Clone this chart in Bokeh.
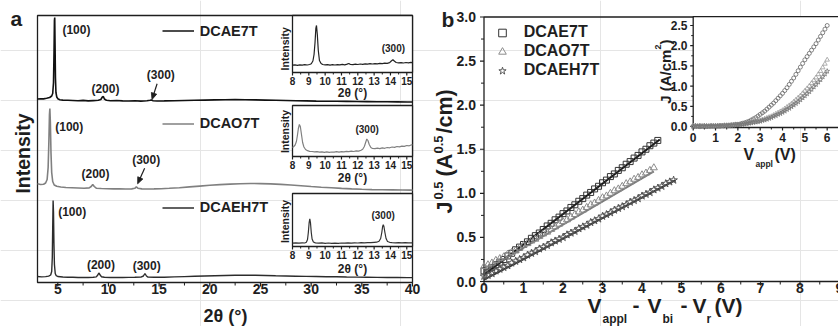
from bokeh.plotting import figure
from bokeh.models import Range1d, Legend, LegendItem
from bokeh.core.properties import value
from bokeh.embed import file_html
from bokeh.resources import INLINE
import math

FONT = "Liberation Sans"
INK = "#1e1e1e"

# ---------------- panel a : XRD (2theta, intensity offset, a.u.) ----------------
xrd_dcae7t = [(3.0,183.5),(3.3,183.8),(3.6,183.6),(3.9,184.2),(4.2,185.0),(4.4,186.5),(4.5,189),(4.58,200),
              (4.63,230),(4.67,262),(4.70,265),(4.73,240),(4.77,205),(4.82,190),(4.9,185.5),(5.0,183.8),
              (5.2,182.8),(5.5,182.4),(6.0,182.2),(6.5,182.0),(7.0,181.8),(7.5,182.1),(8.0,181.6),(8.5,181.9),
              (9.0,182.2),(9.25,183.0),(9.4,185.5),(9.5,186.0),(9.6,183.5),(9.8,182.3),(10.2,181.8),(10.8,182.0),
              (11.4,181.6),(12.0,181.5),(12.6,181.8),(13.2,181.4),(13.8,181.7),(14.1,182.2),(14.25,182.6),
              (14.4,181.8),(14.8,181.5),(15.5,181.6),(16.5,181.8),(17.5,182.0),(18.5,182.2),(19.5,182.4),
              (20.5,182.6),(21.5,182.8),(22.5,182.9),(23.5,182.8),(24.5,182.6),(25.5,182.4),(26.5,182.2),
              (27.5,182.0),(28.5,181.8),(29.5,181.6),(30.5,181.4),(31.5,181.3),(32.5,181.2),(33.5,181.1),
              (34.5,181.0),(35.5,180.9),(36.5,180.8),(37.5,180.7),(38.5,180.6),(39.5,180.5),(40.0,180.5)]
xrd_dcao7t = [(3.0,98.7),(3.3,98.0),(3.6,98.3),(3.8,99.5),(3.95,103),(4.05,115),(4.12,140),(4.18,168),
              (4.22,174),(4.27,160),(4.33,130),(4.4,110),(4.5,101),(4.65,97.5),(4.9,96.2),(5.3,95.5),
              (5.8,95.0),(6.4,94.8),(7.0,94.5),(7.6,94.2),(8.1,94.6),(8.3,96.0),(8.45,98.0),(8.6,96.0),
              (8.8,94.3),(9.3,94.0),(9.9,93.8),(10.5,93.6),(11.1,93.8),(11.7,93.5),(12.3,93.6),(12.6,94.2),
              (12.75,95.6),(12.9,94.3),(13.3,93.6),(13.9,93.5),(14.5,93.6),(15.2,93.8),(16.0,94.2),
              (17.0,94.8),(18.0,95.6),(19.0,96.4),(20.0,97.2),(21.0,97.9),(22.0,98.4),(23.0,98.8),
              (24.0,99.0),(25.0,98.9),(26.0,98.6),(27.0,98.1),(28.0,97.5),(29.0,96.8),(30.0,96.0),
              (31.0,95.3),(32.0,94.7),(33.0,94.1),(34.0,93.6),(35.0,93.2),(36.0,92.9),(37.0,92.7),
              (38.0,92.6),(39.0,92.5),(40.0,92.4)]
xrd_dcaeh7t = [(3.0,6.0),(3.4,5.6),(3.8,5.9),(4.1,6.4),(4.3,7.5),(4.4,11),(4.46,25),(4.5,55),(4.54,82),
               (4.58,70),(4.62,40),(4.67,18),(4.75,9),(4.85,6.8),(5.0,6.0),(5.5,5.5),(6.0,5.3),(6.5,5.2),
               (7.0,5.0),(7.5,5.1),(8.0,5.0),(8.5,5.2),(8.8,5.6),(8.95,7.5),(9.05,9.5),(9.15,8.0),(9.3,5.8),
               (9.6,5.2),(10.2,5.0),(10.8,5.1),(11.4,5.0),(12.0,5.1),(12.6,5.2),(13.2,5.4),(13.45,6.5),
               (13.6,9.0),(13.75,6.5),(13.9,5.4),(14.5,5.2),(15.5,5.3),(16.5,5.6),(17.5,5.9),(18.5,6.2),
               (19.5,6.5),(20.5,6.8),(21.5,7.0),(22.5,7.2),(23.5,7.3),(24.5,7.2),(25.5,7.0),(26.5,6.7),
               (27.5,6.5),(28.5,6.3),(29.5,6.1),(30.5,6.0),(31.5,5.8),(32.5,5.7),(33.5,5.5),(34.5,5.4),
               (35.5,5.3),(36.5,5.1),(37.5,5.0),(38.5,5.0),(39.5,4.9),(40.0,4.9)]

zoom_dcae7t = [(8.0,7.3),(8.15,7.6),(8.3,7.2),(8.45,7.7),(8.6,7.4),(8.75,7.8),(8.9,7.5),(9.05,8.0),(9.15,8.8),
               (9.25,11.5),(9.32,18),(9.38,30),(9.43,44),(9.47,47),(9.52,38),(9.58,22),(9.65,12),(9.75,9),
               (9.85,8.0),(10.0,7.6),(10.15,7.9),(10.3,7.4),(10.45,7.8),(10.6,7.5),(10.75,7.9),(10.9,7.6),
               (11.05,8.1),(11.2,7.7),(11.35,8.4),(11.45,9.0),(11.55,8.0),(11.7,7.8),(11.85,8.3),(12.0,8.0),
               (12.15,8.5),(12.3,8.2),(12.45,8.7),(12.6,8.3),(12.75,8.8),(12.9,8.5),(13.05,8.9),(13.2,8.6),
               (13.35,9.1),(13.5,8.8),(13.65,9.3),(13.8,9.1),(13.95,9.8),(14.05,11.5),(14.15,12.8),
               (14.25,11.2),(14.35,10.0),(14.5,9.6),(14.65,9.9),(14.8,9.5),(14.95,10.0),(15.1,9.7),
               (15.25,10.1),(15.35,9.9)]
zoom_dcao7t = [(8.0,9.0),(8.08,10.0),(8.16,11.5),(8.24,15),(8.3,21),(8.36,28),(8.42,32),(8.48,30),(8.55,22),
               (8.62,14),(8.7,9.5),(8.8,7.0),(8.92,5.8),(9.05,5.2),(9.2,5.0),(9.35,4.6),(9.5,4.9),(9.65,4.4),
               (9.8,4.7),(9.95,4.2),(10.1,4.6),(10.25,4.1),(10.4,4.5),(10.55,4.3),(10.7,4.8),(10.85,4.4),
               (11.0,4.9),(11.15,4.6),(11.3,5.1),(11.45,4.8),(11.6,5.3),(11.75,5.0),(11.9,5.6),(12.05,5.4),
               (12.2,6.2),(12.3,7.2),(12.4,10),(12.48,14),(12.55,17.5),(12.62,16),(12.7,12),(12.8,9),
               (12.9,8.0),(13.05,7.8),(13.2,8.3),(13.35,7.9),(13.5,8.6),(13.65,8.2),(13.8,9.0),(13.95,8.7),
               (14.1,9.5),(14.25,9.1),(14.4,10.0),(14.55,9.6),(14.7,10.4),(14.85,10.1),(15.0,11.0),
               (15.15,10.7),(15.3,11.8),(15.35,11.5)]
zoom_dcaeh7t = [(8.0,3.4),(8.2,3.6),(8.4,3.3),(8.6,3.6),(8.75,3.5),(8.85,4.2),(8.92,7),(8.97,14),(9.02,24),
                (9.06,27.7),(9.1,24),(9.15,14),(9.2,7.5),(9.28,4.5),(9.4,3.6),(9.6,3.4),(9.8,3.6),(10.0,3.2),
                (10.2,3.5),(10.4,3.1),(10.6,3.4),(10.8,3.2),(11.0,3.5),(11.2,3.3),(11.4,3.6),(11.6,3.4),
                (11.8,3.7),(12.0,3.5),(12.2,3.8),(12.4,3.6),(12.6,3.9),(12.8,3.8),(13.0,4.1),(13.15,4.3),
                (13.3,5.2),(13.4,8),(13.47,14),(13.52,20),(13.56,21.7),(13.6,20),(13.66,14),(13.73,8),
                (13.82,5.0),(13.95,4.2),(14.1,3.9),(14.3,3.7),(14.5,3.9),(14.7,3.6),(14.9,3.8),(15.1,3.6),
                (15.35,3.7)]

peak_labels_a = [(6.84,252.7,"(100)"),(9.70,193.7,"(200)"),(15.17,208,"(300)"),
                 (6.13,155.3,"(100)"),(8.72,108.7,"(200)"),(13.72,122.7,"(300)"),
                 (6.42,70.3,"(100)"),(9.26,17.7,"(200)"),(13.77,17,"(300)")]
peak_arrows_a = [(14.80,198.7,14.30,183.0),(13.57,114.3,12.88,98.7)]
zoom_label_pos = [(14.18,24.3),(12.57,27.3),(13.55,31.0)]
ticks_a = [5, 10, 15, 20, 25, 30, 35, 40]
ticks_zoom = [8, 9, 10, 11, 12, 13, 14, 15]

# ---------------- panel b : SCLC ----------------
v_dcae7t = [0.0,0.1,0.2,0.3,0.4,0.5,0.6,0.7,0.8,0.9,1.0,1.1,1.2,1.3,1.4,1.5,1.6,1.7,1.8,1.9,2.0,2.1,2.2,
            2.3,2.4,2.5,2.6,2.7,2.8,2.9,3.0,3.1,3.2,3.3,3.4,3.5,3.6,3.7,3.8,3.9,4.0,4.1,4.2,4.3,4.4]
j05_dcae7t = [0.12,0.14,0.16,0.19,0.22,0.25,0.29,0.32,0.36,0.39,0.42,0.45,0.49,0.52,0.55,0.59,0.63,0.66,
              0.70,0.73,0.77,0.80,0.84,0.87,0.91,0.94,0.98,1.01,1.05,1.08,1.12,1.15,1.19,1.22,1.26,1.29,
              1.33,1.36,1.40,1.43,1.47,1.50,1.54,1.57,1.60]
v_dcao7t = [0.0,0.1,0.2,0.3,0.4,0.5,0.6,0.7,0.8,0.9,1.0,1.1,1.2,1.3,1.4,1.5,1.6,1.7,1.8,1.9,2.0,2.1,2.2,
            2.3,2.4,2.5,2.6,2.7,2.8,2.9,3.0,3.1,3.2,3.3,3.4,3.5,3.6,3.7,3.8,3.9,4.0,4.1,4.2,4.3]
j05_dcao7t = [0.17,0.19,0.21,0.24,0.26,0.28,0.31,0.33,0.35,0.38,0.41,0.43,0.46,0.48,0.51,0.54,0.56,0.59,
              0.62,0.65,0.68,0.70,0.73,0.76,0.79,0.81,0.84,0.87,0.89,0.92,0.95,0.97,1.00,1.03,1.05,1.08,
              1.11,1.13,1.16,1.18,1.21,1.23,1.26,1.29]
v_dcaeh7t = [0.0,0.1,0.2,0.3,0.4,0.5,0.6,0.7,0.8,0.9,1.0,1.1,1.2,1.3,1.4,1.5,1.6,1.7,1.8,1.9,2.0,2.1,2.2,
             2.3,2.4,2.5,2.6,2.7,2.8,2.9,3.0,3.1,3.2,3.3,3.4,3.5,3.6,3.7,3.8,3.9,4.0,4.1,4.2,4.3,4.4,4.5,
             4.6,4.7,4.8]
j05_dcaeh7t = [0.06,0.07,0.09,0.12,0.14,0.16,0.18,0.21,0.23,0.25,0.27,0.30,0.32,0.34,0.37,0.39,0.41,0.44,
               0.46,0.48,0.50,0.53,0.55,0.57,0.60,0.62,0.64,0.67,0.69,0.71,0.74,0.76,0.78,0.81,0.83,0.85,
               0.87,0.90,0.92,0.94,0.97,0.99,1.01,1.04,1.06,1.08,1.11,1.13,1.15]
fit_dcae7t = ([0.0, 4.45], [0.075, 1.61])
fit_dcao7t = ([0.0, 4.30], [0.12, 1.25])
fit_dcaeh7t = ([0.0, 4.85], [0.02, 1.15])
ticks_bx = [0, 1, 2, 3, 4, 5, 6, 7, 8, 9]
ticks_by = [0.0, 0.5, 1.0, 1.5, 2.0, 2.5, 3.0]

v_appl = [0.0,0.1,0.2,0.3,0.4,0.5,0.6,0.7,0.8,0.9,1.0,1.1,1.2,1.3,1.4,1.5,1.6,1.7,1.8,1.9,2.0,2.1,2.2,2.3,
          2.4,2.5,2.6,2.7,2.8,2.9,3.0,3.1,3.2,3.3,3.4,3.5,3.6,3.7,3.8,3.9,4.0,4.1,4.2,4.3,4.4,4.5,4.6,4.7,
          4.8,4.9,5.0,5.1,5.2,5.3,5.4,5.5,5.6,5.7,5.8,5.9,6.0]
j_dcae7t = [0.01,0.01,0.01,0.00,0.01,0.01,0.00,0.01,0.01,0.01,0.01,0.01,0.01,0.02,0.02,0.02,0.03,0.03,0.04,
            0.05,0.05,0.06,0.08,0.09,0.11,0.13,0.16,0.19,0.22,0.26,0.30,0.34,0.38,0.43,0.48,0.53,0.58,0.64,
            0.70,0.76,0.82,0.89,0.96,1.04,1.12,1.20,1.29,1.38,1.47,1.56,1.65,1.73,1.81,1.89,1.97,2.05,2.14,
            2.23,2.32,2.41,2.50]
j_dcao7t = [0.02,0.02,0.01,0.02,0.01,0.02,0.01,0.01,0.02,0.01,0.02,0.02,0.02,0.02,0.03,0.03,0.03,0.04,0.04,
            0.05,0.05,0.05,0.06,0.07,0.08,0.09,0.10,0.11,0.12,0.14,0.15,0.17,0.19,0.21,0.23,0.25,0.28,0.31,
            0.34,0.37,0.40,0.44,0.48,0.52,0.56,0.61,0.66,0.71,0.76,0.82,0.88,0.94,1.00,1.07,1.14,1.21,1.29,
            1.37,1.46,1.55,1.65]
j_dcaeh7t = [0.00,0.01,0.00,0.01,0.00,0.01,0.01,0.00,0.01,0.01,0.01,0.01,0.02,0.01,0.02,0.02,0.02,0.03,0.03,
             0.04,0.04,0.05,0.05,0.06,0.07,0.08,0.09,0.10,0.11,0.12,0.13,0.15,0.16,0.18,0.20,0.22,0.25,0.27,
             0.30,0.32,0.35,0.38,0.42,0.45,0.49,0.53,0.57,0.61,0.66,0.71,0.76,0.81,0.86,0.92,0.98,1.04,1.10,
             1.16,1.23,1.30,1.37]
ticks_ix = [0, 1, 2, 3, 4, 5, 6]
ticks_iy = [0.0, 0.5, 1.0, 1.5, 2.0, 2.5]

# ---------------- one canvas, page-pixel coordinates; panels are sub-coordinate systems ----------------
W, H = 838, 326
p = figure(width=W, height=H, x_range=Range1d(0, W), y_range=Range1d(H, 0),
           min_border_left=0, min_border_right=0, min_border_top=0, min_border_bottom=0,
           x_axis_location=None, y_axis_location=None, output_backend="svg",
           toolbar_location=None, title=None)
p.outline_line_color = None
p.background_fill_color = "white"
p.border_fill_color = "white"


def panel(xsrc, ysrc, rect):
    """rect = (left, right, bottom, top) in page pixels"""
    l, r, b, t = rect
    s = p.subplot(x_source=Range1d(*xsrc), y_source=Range1d(*ysrc),
                  x_target=Range1d(l, r), y_target=Range1d(b, t))
    dx = (xsrc[1] - xsrc[0]) / (r - l)      # data units per pixel
    dy = (ysrc[1] - ysrc[0]) / (b - t)
    return s, dx, dy


def txt(s, x, y, text, size, align="center", angle=0.0):
    # all texts are positioned by their vertical middle
    s.text(x=x, y=y, text=text, angle=angle, text_font=value(FONT), text_font_style="bold",
           text_font_size=f"{size}px", text_align=align, text_baseline="middle", text_color=INK)


def put(text, sx, sy, size, align="left", angle=0.0):
    txt(p, [sx], [sy], [text], size, align, angle)


def xaxis(s, y0, dy, ticks, labels, size, mid_px, tick_px=4, minor_px=3):
    n = len(ticks)
    s.segment(x0=ticks, y0=[y0] * n, x1=ticks, y1=[y0 - tick_px * dy] * n, line_color=INK, line_width=1.2)
    mids = [(a + b) / 2 for a, b in zip(ticks[:-1], ticks[1:])]
    m = len(mids)
    s.segment(x0=mids, y0=[y0] * m, x1=mids, y1=[y0 - minor_px * dy] * m, line_color=INK, line_width=1)
    txt(s, ticks, [y0 - mid_px * dy] * n, labels, size)


def yaxis(s, x0, dx, ticks, labels, size, right_px, tick_px=4, minor_px=3):
    n = len(ticks)
    s.segment(x0=[x0] * n, y0=ticks, x1=[x0 - tick_px * dx] * n, y1=ticks, line_color=INK, line_width=1.2)
    mids = [(a + b) / 2 for a, b in zip(ticks[:-1], ticks[1:])]
    m = len(mids)
    s.segment(x0=[x0] * m, y0=mids, x1=[x0 - minor_px * dx] * m, y1=mids, line_color=INK, line_width=1)
    txt(s, [x0 - right_px * dx] * n, ticks, labels, size, align="right")


def box(s, x0, x1, y0, y1, fill=None):
    s.quad(left=[x0], right=[x1], bottom=[y0], top=[y1], fill_color=fill, line_color=INK, line_width=1.3)


def arrow(s, x0, y0, x1, y1, dx, dy, head=6.5, half=2.8):
    ux, uy = (x1 - x0) / dx, (y1 - y0) / dy
    L = math.hypot(ux, uy)
    ux, uy = ux / L, uy / L
    nx, ny = -uy, ux
    bx, by = -ux * head, -uy * head
    s.segment(x0=[x0], y0=[y0], x1=[x1 + bx * 0.7 * dx], y1=[y1 + by * 0.7 * dy], line_color=INK, line_width=1.2)
    s.patch(x=[x1, x1 + (bx + nx * half) * dx, x1 + (bx - nx * half) * dx],
            y=[y1, y1 + (by + ny * half) * dy, y1 + (by - ny * half) * dy],
            fill_color=INK, line_color=INK, line_width=0.8)


def xs(pairs):
    return [a for a, b in pairs]


def ys(pairs):
    return [b for a, b in pairs]


R = math.pi / 2

# ---------------- panel a ----------------
A, adx, ady = panel((3, 40), (0, 267), (37, 412, 282, 15))
box(A, 3, 40, 0, 267)
xaxis(A, 0, ady, ticks_a, [str(t) for t in ticks_a], 14, 6.7)
r_a1 = A.line(xs(xrd_dcae7t), ys(xrd_dcae7t), line_color="#111111", line_width=1.6)
r_a2 = A.line(xs(xrd_dcao7t), ys(xrd_dcao7t), line_color="#808080", line_width=1.6)
r_a3 = A.line(xs(xrd_dcaeh7t), ys(xrd_dcaeh7t), line_color="#2c2c2c", line_width=1.4)
txt(A, [t[0] for t in peak_labels_a], [t[1] for t in peak_labels_a], [t[2] for t in peak_labels_a], 12)
for x0, y0, x1, y1 in peak_arrows_a:
    arrow(A, x0, y0, x1, y1, adx, ady)

for (bot, top, data, col), (lx, ly), ic, tb in zip(
        [(72, 15, zoom_dcae7t, "#222222"), (156, 105, zoom_dcao7t, "#808080"),
         (246, 193, zoom_dcaeh7t, "#333333")],
        zoom_label_pos, [48.3, 131, 221], [92, 177, 268.5]):
    hgt = bot - top
    Z, zdx, zdy = panel((8, 15.35), (0, hgt), (292, 412, bot, top))
    box(Z, 8, 15.35, 0, hgt, fill="white")
    xaxis(Z, 0, zdy, ticks_zoom, [str(t) for t in ticks_zoom], 10, 8, tick_px=3, minor_px=2)
    Z.line(xs(data), ys(data), line_color=col, line_width=1.2)
    txt(Z, [lx], [ly], ["(300)"], 10)
    put("Intensity", 284, ic, 10.5, align="center", angle=R)
    put("2θ (°)", 352, tb, 12, align="center")

for rend, name, yloc in [(r_a1, "DCAE7T", 286.8), (r_a2, "DCAO7T", 194.2), (r_a3, "DCAEH7T", 110.2)]:
    lg = Legend(items=[LegendItem(label=name, renderers=[rend])], location=(161.7, yloc),
                glyph_width=32, glyph_height=17, label_height=17, label_standoff=6, padding=0, margin=0,
                spacing=0, border_line_color=None, background_fill_alpha=0, label_text_font=FONT,
                label_text_font_style="bold", label_text_font_size="14.5px", label_text_color=INK)
    p.add_layout(lg)

put("a", 10, 18, 21)
put("Intensity", 22, 153, 19.5, align="center", angle=R)
put("2θ (°)", 225, 315, 18, align="center")

# ---------------- panel b ----------------
B, bdx, bdy = panel((0, 9), (0, 3), (483.5, 839, 281, 16.5))
box(B, 0, 9.05, 0, 3.0)
xaxis(B, 0, bdy, ticks_bx, [str(t) for t in ticks_bx], 14, 6)
yaxis(B, 0, bdx, ticks_by, [f"{t:.1f}" for t in ticks_by], 14, 8)
B.line(*fit_dcae7t, line_color="#111111", line_width=2)
B.line(*fit_dcao7t, line_color="#7a7a7a", line_width=2)
B.line(*fit_dcaeh7t, line_color="#333333", line_width=2)
s1 = B.scatter(v_dcae7t, j05_dcae7t, marker="square", size=6, fill_color=None, line_color="#333333", line_width=1)
s2 = B.scatter(v_dcao7t, j05_dcao7t, marker="triangle", size=7, fill_color=None, line_color="#8c8c8c", line_width=1)
s3 = B.scatter(v_dcaeh7t, j05_dcaeh7t, marker="star", size=8, fill_color=None, line_color="#555555", line_width=1)
lgb = Legend(items=[LegendItem(label="DCAE7T", renderers=[s1]), LegendItem(label="DCAO7T", renderers=[s2]),
                    LegendItem(label="DCAEH7T", renderers=[s3])],
             location=(491.7, 246.2), glyph_width=20, glyph_height=19, label_height=19, spacing=0,
             label_standoff=12, padding=0, margin=0, border_line_color=None, background_fill_alpha=0,
             label_text_font=FONT, label_text_font_style="bold", label_text_font_size="16px",
             label_text_color=INK)
p.add_layout(lgb)

# inset of panel b
I, idx, idy = panel((0, 6.5), (0, 2.5), (692.7, 837.85, 126, 25))
box(I, 0, 6.6, -0.025, 2.72, fill="white")
xaxis(I, -0.025, idy, ticks_ix, [str(t) for t in ticks_ix], 12, 10.2, tick_px=3, minor_px=2)
yaxis(I, 0, idx, ticks_iy, [f"{t:.1f}" for t in ticks_iy], 12, 5.7, tick_px=3, minor_px=2)
I.scatter(v_appl, j_dcae7t, marker="circle", size=4, fill_color=None, line_color="#666666", line_width=0.8)
I.scatter(v_appl, j_dcao7t, marker="triangle", size=4.5, fill_color=None, line_color="#9a9a9a", line_width=0.8)
I.scatter(v_appl, j_dcaeh7t, marker="star", size=5, fill_color=None, line_color="#777777", line_width=0.8)

put("b", 441, 19.3, 21)
# J^0.5 (A^0.5/cm)
put("J", 444.5, 213, 21.5, angle=R)
put("0.5", 437.5, 199, 13, angle=R)
put("(A", 444.5, 176, 21.5, angle=R)
put("0.5", 437.5, 153, 13, angle=R)
put("/cm)", 444.5, 133, 21.5, angle=R)
# V_appl - V_bi - V_r (V)
put("V", 587, 304.5, 21)
put("appl", 602, 318.5, 12)
put("-", 632, 304.5, 21)
put("V", 647, 304.5, 21)
put("bi", 662, 318.5, 12)
put("-", 680, 304.5, 21)
put("V", 692, 304.5, 21)
put("r", 706, 318.5, 12)
put("(V)", 714, 304.5, 21)
# inset labels
put("J (A/cm", 665, 103.3, 15, angle=R)
put("2", 657, 49, 9, angle=R)
put(")", 665, 44, 15, angle=R)
put("V", 743, 154, 16)
put("appl", 755, 163, 8.5)
put("(V)", 774, 154, 16)

open("out.html", "w").write(file_html(p, INLINE))
